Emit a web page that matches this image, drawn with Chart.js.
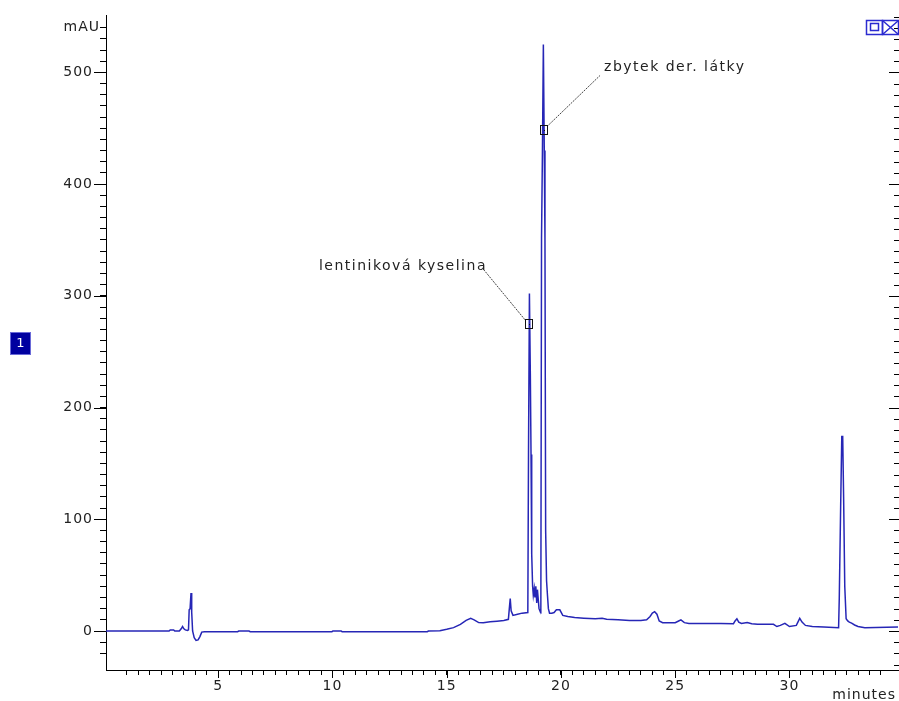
<!DOCTYPE html>
<html>
<head>
<meta charset="utf-8">
<script src="https://cdn.jsdelivr.net/npm/chart.js@4"></script>
<style>
  html, body { margin: 0; padding: 0; background: #fff; }
  #wrap { width: 899px; height: 701px; }
</style>
</head>
<body>
<div id="wrap"><canvas id="chart1" width="899" height="701"></canvas></div>
<script>
// retention time (minutes) and detector signal (mAU)
const times = [0,2.85,2.9,3.05,3.1,3.3,3.38,3.44,3.5,3.56,3.66,3.7,3.73,3.77,3.81,3.84,3.88,3.95,4.03,4.12,4.2,4.28,4.4,
  5.85,5.9,6.35,6.4,9.98,10.02,10.38,10.42,14.15,14.2,14.7,15.0,15.3,15.6,15.85,16.05,16.2,16.4,16.6,16.9,17.2,17.5,17.7,
  17.74,17.78,17.82,17.9,18.1,18.3,18.55,18.58,18.62,18.66,18.69,18.72,18.76,18.79,18.83,18.86,18.9,18.94,18.97,19.0,19.04,
  19.08,19.12,19.15,19.19,19.23,19.27,19.3,19.33,19.37,19.41,19.45,19.5,19.6,19.7,19.8,19.95,20.08,20.3,20.6,21.0,21.5,21.8,
  22.0,22.5,23.0,23.5,23.75,23.9,24.0,24.1,24.2,24.3,24.45,25.0,25.15,25.25,25.4,25.6,26.5,27.0,27.55,27.62,27.7,27.78,27.9,
  28.15,28.35,28.6,29.3,29.45,29.6,29.8,30.0,30.3,30.45,30.55,30.7,31.0,31.5,32.15,32.18,32.24,32.29,32.33,32.37,32.42,32.48,
  32.55,32.62,32.72,32.85,33.0,33.3,34.75];
const mAU = [0,0,1,1,0,0,2,4,2,1,0.5,1,19,20,34,17,0,-6,-8.5,-8,-5,-1,-0.6,
  -0.6,0,0,-0.6,-0.6,0,0,-0.6,-0.6,0,0.3,1.5,3,6,9.5,11.3,10,7.5,7.3,8.2,8.8,9.5,10.5,
  20,29,18,14,15,16,16.5,158,302,230,158,69,40,32,38,30,40,25,37,30,20,
  18,17,352,430,525,430,352,90,45,32,20,16,16,16.5,19,19,14,13,12,11.5,11,11.5,
  10.5,10,9.5,9.5,10,13,16,17.3,15,9,7.5,7.5,9,10,7.5,6.8,6.8,6.8,6.5,9,11,8,6.8,
  7.5,6.5,6,6,4,5,6.8,4,5,11.3,8,5,4,3.5,3,29.5,111,174,174,120,40,11,
  9,8,7,5.4,4,3,3.5];

// peak annotations
const noteLabels = ['lentiniková kyselina', 'zbytek der. látky'];
const noteTimes = [18.6, 19.26];
const noteValues = [275, 448];

const blue = '#2626b6';
const font = {family: '"DejaVu Sans", sans-serif', size: 14};

const overlay = {
  id: 'overlay',
  beforeDraw(chart) {
    chart.ctx.letterSpacing = '1px';
  },
  afterDraw(chart) {
    const ctx = chart.ctx;
    const x = chart.scales.x, y = chart.scales.y;
    const a = chart.chartArea;
    ctx.save();
    ctx.strokeStyle = '#000';
    ctx.lineWidth = 1;
    ctx.beginPath();
    // long ticks on the left axis and the mirrored ticks on the right
    for (let v = -30; v <= 550; v += 10) {
      const py = Math.round(y.getPixelForValue(v)) + 0.5;
      const major = v % 100 === 0;
      if (major) { ctx.moveTo(a.left - 12, py); ctx.lineTo(a.left, py); }
      ctx.moveTo(a.right + 1, py); ctx.lineTo(a.right - (major ? 9 : 4), py);
    }
    for (let t = 5; t <= 30; t += 5) {
      const px = Math.round(x.getPixelForValue(t)) + 0.5;
      ctx.moveTo(px, a.bottom); ctx.lineTo(px, a.bottom + 8);
    }
    ctx.stroke();

    ctx.fillStyle = '#222';
    ctx.font = '14px "DejaVu Sans", sans-serif';
    ctx.letterSpacing = '1px';
    ctx.textAlign = 'right';
    ctx.textBaseline = 'middle';
    ctx.fillText('mAU', a.left - 6, y.getPixelForValue(540));
    ctx.textBaseline = 'alphabetic';
    ctx.fillText('minutes', 896, 699);

    // peak labels
    ctx.letterSpacing = '1.5px';
    noteLabels.forEach((lab, i) => {
      const px = x.getPixelForValue(noteTimes[i]);
      const py = y.getPixelForValue(noteValues[i]);
      ctx.strokeStyle = '#444';
      ctx.setLineDash([2, 1]);
      ctx.beginPath();
      if (i === 0) {
        ctx.moveTo(px - 4, py - 4); ctx.lineTo(px - 46, py - 55);
        ctx.textAlign = 'right';
        ctx.fillText(lab, px - 42, py - 54);
      } else {
        ctx.moveTo(px + 3, py - 4); ctx.lineTo(px + 56, py - 55);
        ctx.textAlign = 'left';
        ctx.fillText(lab, px + 60, py - 59);
      }
      ctx.stroke();
      ctx.setLineDash([]);
      ctx.strokeStyle = '#111';
      ctx.strokeRect(Math.round(px) - 3.5, Math.round(py) - 4.5, 7, 9);
      ctx.fillStyle = '#111';
      ctx.fillRect(Math.round(px), Math.round(py), 1, 1);
      ctx.fillStyle = '#222';
    });

    // signal number box
    ctx.letterSpacing = '0px';
    ctx.fillStyle = '#0000a0';
    ctx.fillRect(10, 332, 20, 22);
    ctx.strokeStyle = '#6a6ad8';
    ctx.strokeRect(10.5, 332.5, 20, 22);
    ctx.fillStyle = '#fff';
    ctx.font = '13px "DejaVu Sans", sans-serif';
    ctx.textAlign = 'center';
    ctx.textBaseline = 'middle';
    ctx.fillText('1', 20.5, 343.5);

    // window icons top right
    ctx.strokeStyle = '#2b2bd0';
    ctx.lineWidth = 1.5;
    ctx.strokeRect(866.5, 20.5, 16, 14);
    ctx.strokeRect(870.5, 23.5, 8, 7);
    ctx.strokeRect(882.5, 20.5, 16, 14);
    ctx.beginPath();
    ctx.moveTo(882.5, 20.5); ctx.lineTo(898.5, 34.5);
    ctx.moveTo(898.5, 20.5); ctx.lineTo(882.5, 34.5);
    ctx.stroke();
    ctx.restore();
  }
};

new Chart('chart1', {
  type: 'line',
  data: {
    datasets: [{
      data: times.map((t, i) => ({x: t, y: mAU[i]})),
      borderColor: blue,
      borderWidth: 1.5,
      pointRadius: 0,
      tension: 0,
      fill: false
    }]
  },
  options: {
    responsive: false,
    animation: false,
    devicePixelRatio: 1,
    layout: {padding: {top: 15, right: 1, left: 0, bottom: 0}},
    plugins: {legend: {display: false}, tooltip: {enabled: false}},
    scales: {
      x: {
        type: 'linear',
        min: 0.09,
        max: 34.75,
        afterBuildTicks(s) { s.ticks = s.ticks.filter(t => Math.abs(t.value * 2 - Math.round(t.value * 2)) < 1e-6); },
        afterFit(s) { s.height = 31; },
        border: {display: true, color: '#000', width: 1},
        grid: {display: true, drawOnChartArea: false, drawTicks: true, tickLength: 5, color: '#000', tickColor: '#000'},
        ticks: {
          stepSize: 0.5,
          autoSkip: false,
          maxRotation: 0,
          padding: 3,
          color: '#222',
          font: font,
          callback: v => (v % 5 === 0 && v > 0) ? String(v) : ''
        }
      },
      y: {
        min: -34.9,
        max: 551,
        afterBuildTicks(s) { s.ticks = s.ticks.filter(t => Math.abs(t.value % 10) < 1e-6); },
        afterFit(s) { s.width = 106; },
        border: {display: true, color: '#000', width: 1},
        grid: {display: true, drawOnChartArea: false, drawTicks: true, tickLength: 6, color: '#000', tickColor: '#000'},
        ticks: {
          stepSize: 10,
          autoSkip: false,
          padding: 7,
          color: '#222',
          font: font,
          callback: v => (v % 100 === 0) ? String(v) : ''
        }
      }
    }
  },
  plugins: [overlay]
});
</script>
</body>
</html>
